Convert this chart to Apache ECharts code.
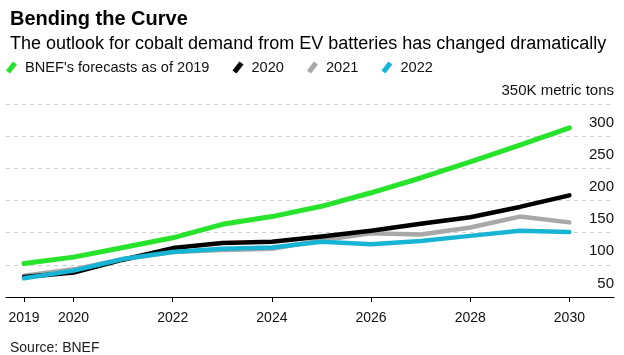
<!DOCTYPE html>
<html>
<head>
<meta charset="utf-8">
<script src="https://cdn.jsdelivr.net/npm/echarts@6/dist/echarts.min.js"></script>
<style>
html,body{margin:0;padding:0;background:#fff;}
#chart{width:624px;height:355px;}
</style>
</head>
<body>
<div id="chart"></div>
<script>
const years = [2019, 2020, 2021, 2022, 2023, 2024, 2025, 2026, 2027, 2028, 2029, 2030];
const xTickYears = [2019, 2020, 2022, 2024, 2026, 2028, 2030];
const seriesNames = ["BNEF's forecasts as of 2019", "2020", "2021", "2022"];
const forecast2019 = [102, 112, 127, 142, 163, 175, 191, 212, 235, 260, 286, 313];
const forecast2020 = [81, 88, 108, 126, 134, 136, 144, 153, 164, 174, 190, 208];
const forecast2021 = [83, 93, 109, 120, 123, 125, 138, 149, 147, 158, 175, 166];
const forecast2022 = [79, 91, 109, 120, 125, 127, 136, 132, 137, 145, 153, 151];
const yTicks = [50, 100, 150, 200, 250, 300, 350];

const FONT = '"Liberation Sans", Arial, Helvetica, sans-serif';
const colors = ['#27e32b', '#000000', '#a8a8a8', '#18b4d4'];
const slash = 'path://M0,9 L7,0 L11,3 L4,12 Z';

function pairs(vals) { return years.map((y, i) => [y, vals[i]]); }

const chart = echarts.init(document.getElementById('chart'), null, {renderer: 'canvas'});
const allSeries = [forecast2019, forecast2020, forecast2021, forecast2022];
const zs = [5, 3, 2, 4];
chart.setOption({
  animation: false,
  textStyle: {fontFamily: FONT},
  title: [
    {text: 'Bending the Curve', left: 5, top: 4,
     textStyle: {fontFamily: FONT, fontSize: 20, fontWeight: 'bold', color: '#000'}},
    {text: 'The outlook for cobalt demand from EV batteries has changed dramatically', left: 5, top: 30,
     textStyle: {fontFamily: FONT, fontSize: 18, fontWeight: 'normal', color: '#000'}},
    {text: 'Source: BNEF', left: 5, top: 336,
     textStyle: {fontFamily: FONT, fontSize: 14, fontWeight: 'normal', color: '#222'}}
  ],
  legend: {
    left: 1, top: 55, itemWidth: 11, itemHeight: 12, itemGap: 23,
    icon: slash,
    data: seriesNames,
    textStyle: {fontFamily: FONT, fontSize: 14.6, color: '#111', padding: [0, 0, 0, 3]}
  },
  grid: {left: 6, right: 10, top: 104, bottom: 58, containLabel: false},
  xAxis: {
    type: 'value', min: 2018.637, max: 2030.9,
    axisLine: {show: true, lineStyle: {color: '#000', width: 1}},
    axisTick: {show: true, length: 5, customValues: xTickYears, lineStyle: {color: '#000'}},
    axisLabel: {customValues: xTickYears, fontFamily: FONT, fontSize: 14, color: '#111', margin: 14,
                formatter: v => String(v)},
    splitLine: {show: false}
  },
  yAxis: {
    type: 'value', position: 'right', min: 50, max: 350, interval: 50,
    axisLine: {show: false}, axisTick: {show: false},
    axisLabel: {inside: true, margin: 0, fontFamily: FONT, fontSize: 15, color: '#111',
                verticalAlign: 'bottom', padding: [0, 0, 6, 0],
                formatter: v => v === 350 ? '350K metric tons' : String(v)},
    splitLine: {show: true, lineStyle: {color: '#cfcfcf', type: [4, 4], width: 1}}
  },
  series: seriesNames.map((name, i) => ({
    name, type: 'line', data: pairs(allSeries[i]), symbol: 'none', smooth: false, z: zs[i],
    itemStyle: {color: colors[i]},
    lineStyle: {color: colors[i], width: i === 0 ? 5 : 4.5, join: 'round', cap: 'round'}
  }))
});
</script>
</body>
</html>
